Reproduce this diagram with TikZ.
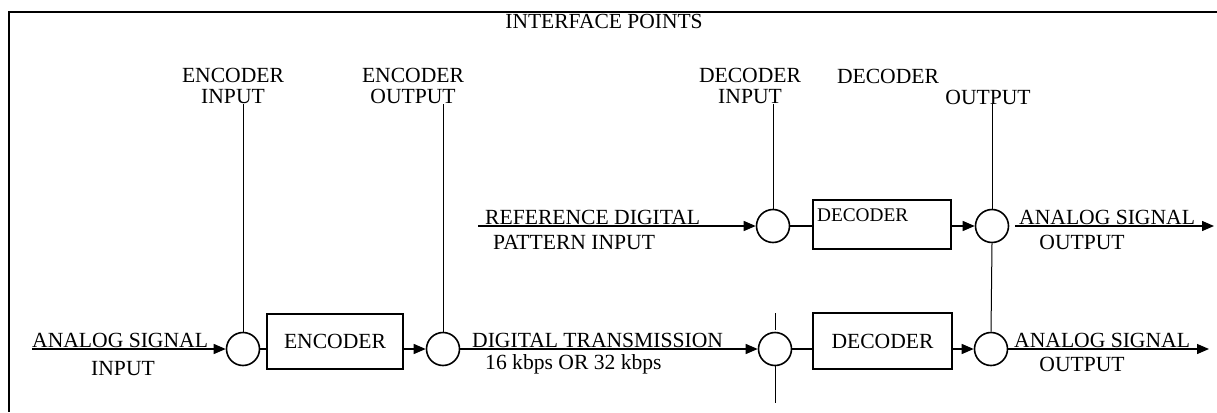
\documentclass[tikz,border=0pt]{standalone}
\usepackage{fontspec}
\setmainfont{Liberation Serif}
\usetikzlibrary{arrows.meta}
\begin{document}
\begin{tikzpicture}[x=1pt,y=-1pt,
  lbl/.style={font=\fontsize{21.6}{21}\selectfont, inner sep=0pt, align=center},
  ttl/.style={font=\fontsize{21.5}{21}\selectfont, inner sep=0pt},
  ipt/.style={circle, draw, line width=1.6pt, minimum size=33pt, inner sep=0pt},
  blk/.style={draw, line width=2.2pt, inner sep=0pt, font=\fontsize{21.6}{21}\selectfont},
  small/.style={font=\fontsize{19.3}{20}\selectfont, inner sep=0pt},
  thinln/.style={line width=1pt},
  plainln/.style={line width=1.3pt},
  arr/.style={line width=1.3pt, -{Triangle[length=12pt,width=10pt]}}]
\useasboundingbox (0,0) rectangle (1217,412);
% frame
\draw[line width=1.5pt] (1217,12) -- (9,12) -- (9,412);
\node[ttl] (title) at (604,21) {INTERFACE POINTS};

% interface point labels
\node[lbl] (encin)  at (233,86) {ENCODER\\INPUT};
\node[lbl] (encout) at (413,86) {ENCODER\\OUTPUT};
\node[lbl] (decin)  at (750,86) {DECODER\\INPUT};
\node[lbl] (decoutA) at (888,76) {DECODER};
\node[lbl] (decoutB) at (988,97) {OUTPUT};

% interface points (circles)
\node[ipt] (c1) at (243,349) {};
\node[ipt] (c2) at (443,349) {};
\node[ipt] (c3) at (773,226) {};
\node[ipt] (c4) at (775,349) {};
\node[ipt] (c5) at (992,226) {};
\node[ipt] (c6) at (991,349) {};

% blocks
\node[blk, minimum width=136pt, minimum height=55pt] (enc) at (335,341.5) {ENCODER};
\node[blk, minimum width=139pt, minimum height=56pt] (dec2) at (882.5,341) {DECODER};
\node[blk, minimum width=138pt, minimum height=49pt] (dec1) at (882,224.5) {};
\node[small, anchor=north west] (dec1t) at ([xshift=5pt,yshift=-10pt]dec1.north west) {DECODER};

% texts along the signal lines
\node[lbl, anchor=base west] (ainA) at (32,347) {ANALOG SIGNAL};
\node[lbl] (ainB) at (123,369) {INPUT};
\node[lbl, anchor=base west] (refA) at (485,224) {REFERENCE DIGITAL};
\node[lbl, anchor=base west] (refB) at (493,249) {PATTERN INPUT};
\node[lbl, anchor=base west] (digA) at (472,347) {DIGITAL TRANSMISSION};
\node[lbl, anchor=base west] (digB) at (485,369) {16 kbps OR 32 kbps};
\node[lbl, anchor=base west] (aoutA) at (1019,224) {ANALOG SIGNAL};
\node[lbl] (aoutB) at (1082,242) {OUTPUT};
\node[lbl, anchor=base west] (boutA) at (1014,347) {ANALOG SIGNAL};
\node[lbl] (boutB) at (1082,364) {OUTPUT};

% free ends
\coordinate (ain0) at (32,349);
\coordinate (ref0) at (478,226);
\coordinate (out1) at (1214,226);
\coordinate (out2) at (1209,349);
\coordinate (tk) at (775,313);
\coordinate (bt) at (775,403);

% interface lines
\draw[thinln] (c1.north) -- (c1.north |- encin.south);
\draw[thinln] (c2.north) -- (c2.north |- encout.south);
\draw[thinln] (c3.north) -- (c3.north |- decin.south);
\draw[thinln] (c5.north) -- (c5.north |- decoutB.south);
\draw[thinln] (c5.south) -- (c6.north);
\draw[thinln] (tk) -- ([yshift=2pt]c4.north);
\draw[thinln] (c4.south) -- (c4.south |- bt);

% signal flow, bottom row
\draw[arr] (ain0) -- (c1.west);
\draw[plainln] (c1.east) -- (c1.east -| enc.west);
\draw[arr] (enc.east |- c2) -- (c2.west);
\draw[arr] (c2.east) -- (c4.west);
\draw[plainln] (c4.east) -- (c4.east -| dec2.west);
\draw[arr] (dec2.east |- c6) -- (c6.west);
\draw[arr] (c6.east) -- (out2);

% signal flow, top row
\draw[arr] (ref0) -- (c3.west);
\draw[plainln] (c3.east) -- (c3.east -| dec1.west);
\draw[arr] (dec1.east |- c5) -- (c5.west);
\draw[arr] ([xshift=6pt]c5.east) -- (out1);
\end{tikzpicture}
\end{document}
